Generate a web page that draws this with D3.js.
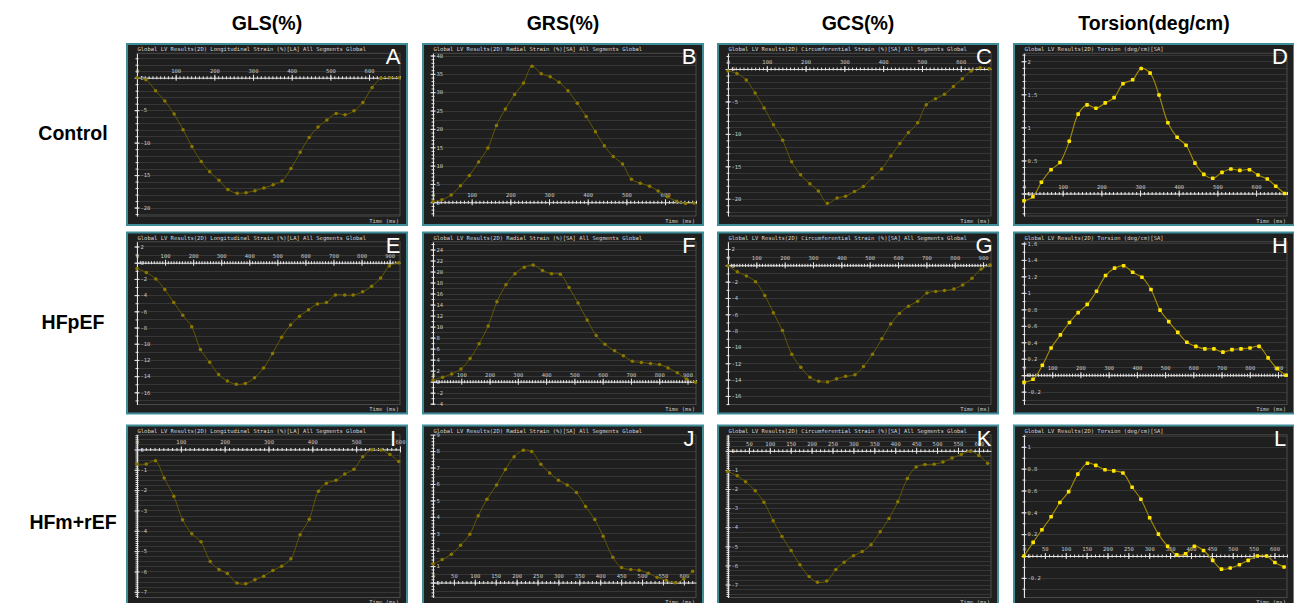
<!DOCTYPE html>
<html>
<head>
<meta charset="utf-8">
<script src="https://cdn.jsdelivr.net/npm/d3@7"></script>
<style>
  html, body { margin: 0; padding: 0; background: #ffffff; }
  svg { display: block; }
</style>
</head>
<body>
<svg id="chart" width="1294" height="603"></svg>
<script>
// ---- labels ----
const columnHeaders = ["GLS(%)", "GRS(%)", "GCS(%)", "Torsion(deg/cm)"];
const rowLabels = ["Control", "HFpEF", "HFm+rEF"];
const panelLetters = ["A", "B", "C", "D", "E", "F", "G", "H", "I", "J", "K", "L"];
const panelTitles = [
  "Global LV Results(2D) Longitudinal Strain (%)[LA] All Segments Global",
  "Global LV Results(2D) Radial Strain (%)[SA] All Segments Global",
  "Global LV Results(2D) Circumferential Strain (%)[SA] All Segments Global",
  "Global LV Results(2D) Torsion (deg/cm)[SA]"
];
const timeAxisLabel = "Time (ms)";

// ---- series: time (ms) and value per panel ----
const timeA = [0, 23, 48, 72, 96, 119, 142, 166, 188, 212, 235, 259, 282, 305, 328, 352, 375, 398, 422, 445, 468, 491, 515, 538, 561, 584, 608, 631, 655, 678];
const valueA = [0, -0.3, -2.0, -3.6, -5.6, -8.0, -10.6, -12.9, -14.5, -15.8, -17.2, -17.8, -17.7, -17.4, -17.0, -16.5, -15.9, -14.0, -11.5, -9.2, -7.6, -6.5, -5.5, -5.7, -5.1, -3.8, -1.5, -0.1, 0.0, 0.0];

const timeB = [0, 23, 47, 71, 94, 118, 142, 164, 187, 211, 234, 256, 280, 303, 326, 349, 373, 396, 420, 443, 466, 490, 513, 536, 560, 582, 606, 630, 653, 675];
const valueB = [0.2, 0.7, 2.0, 4.5, 7.3, 11.0, 14.8, 20.9, 25.4, 29.4, 32.5, 37.1, 35.0, 34.2, 32.7, 30.4, 27.0, 23.4, 19.2, 15.4, 12.5, 10.4, 6.3, 5.2, 4.4, 3.1, 1.5, 0.3, -0.3, -0.2];

const timeC = [0, 23, 47, 70, 93, 117, 141, 164, 187, 211, 233, 256, 281, 303, 326, 349, 372, 396, 420, 443, 465, 489, 511, 535, 558, 581, 604, 627, 650, 674];
const valueC = [-0.3, -0.7, -1.7, -3.7, -6.0, -8.6, -11.0, -14.3, -16.3, -17.7, -18.8, -20.7, -19.9, -19.6, -18.9, -18.1, -16.8, -15.4, -13.4, -11.5, -9.8, -8.3, -5.5, -4.6, -3.9, -2.7, -1.5, -0.3, 0.2, 0.05];

const timeD = [0, 23, 45, 70, 93, 117, 140, 163, 186, 210, 233, 256, 281, 303, 326, 349, 372, 396, 419, 442, 465, 488, 512, 535, 558, 583, 605, 629, 651, 674];
const valueD = [-0.11, -0.05, 0.17, 0.36, 0.47, 0.79, 1.20, 1.34, 1.29, 1.37, 1.45, 1.66, 1.72, 1.89, 1.82, 1.49, 1.07, 0.85, 0.73, 0.46, 0.29, 0.23, 0.32, 0.37, 0.35, 0.36, 0.28, 0.22, 0.11, 0.0];

const timeE = [0, 33, 67, 99, 131, 163, 195, 226, 259, 291, 322, 354, 386, 419, 451, 483, 515, 547, 579, 611, 643, 675, 707, 740, 770, 804, 836, 868, 899, 933];
const valueE = [-0.7, -1.2, -2.0, -3.3, -4.9, -6.5, -7.9, -10.7, -12.3, -13.8, -14.6, -15.0, -14.9, -14.2, -13.0, -11.2, -9.2, -7.7, -6.6, -5.8, -5.1, -4.9, -4.0, -4.0, -4.0, -3.6, -2.9, -1.9, -0.4, 0.0];

const timeF = [0, 34, 66, 99, 131, 163, 195, 226, 258, 290, 323, 354, 387, 419, 450, 481, 513, 545, 577, 608, 642, 673, 705, 737, 769, 801, 831, 864, 896, 928];
const valueF = [0.3, 0.8, 1.4, 2.3, 4.2, 6.9, 10.1, 14.5, 17.6, 19.6, 20.8, 21.2, 20.2, 19.6, 19.5, 17.1, 14.3, 11.2, 8.4, 6.8, 5.6, 4.7, 3.7, 3.5, 3.3, 3.1, 2.5, 1.6, 0.5, -0.1];

const timeG = [0, 33, 65, 97, 130, 160, 192, 225, 257, 289, 320, 351, 383, 415, 448, 478, 510, 543, 574, 605, 637, 669, 702, 733, 764, 797, 828, 861, 893, 925];
const valueG = [-0.05, -0.8, -1.3, -2.0, -3.7, -5.8, -8.0, -10.9, -12.5, -13.7, -14.2, -14.3, -13.9, -13.6, -13.4, -12.4, -10.9, -9.0, -7.2, -5.9, -5.0, -4.4, -3.4, -3.2, -3.1, -2.9, -2.4, -1.6, -0.45, 0.05];

const timeH = [0, 32, 65, 96, 129, 161, 192, 224, 257, 289, 321, 353, 385, 418, 450, 482, 513, 545, 577, 609, 641, 673, 705, 737, 769, 801, 833, 865, 897, 929];
const valueH = [-0.085, -0.05, 0.12, 0.33, 0.49, 0.64, 0.76, 0.86, 1.02, 1.21, 1.30, 1.33, 1.25, 1.19, 1.04, 0.79, 0.65, 0.52, 0.40, 0.35, 0.32, 0.32, 0.28, 0.31, 0.32, 0.33, 0.35, 0.21, 0.08, 0.0];

const timeI = [0, 21, 42, 62, 84, 104, 125, 146, 167, 187, 206, 228, 248, 269, 289, 310, 330, 351, 372, 393, 414, 432, 454, 474, 495, 515, 536, 557, 577, 597];
const valueI = [-0.72, -0.72, -0.56, -1.41, -2.30, -3.46, -4.15, -4.54, -5.51, -5.90, -6.10, -6.57, -6.61, -6.41, -6.23, -5.95, -5.74, -5.38, -4.20, -3.43, -2.05, -1.66, -1.52, -1.21, -0.97, -0.36, -0.02, -0.03, -0.25, -0.59];

const timeJ = [0, 22, 44, 66, 88, 108, 129, 152, 173, 194, 216, 236, 258, 279, 300, 321, 343, 365, 387, 407, 430, 451, 473, 493, 515, 536, 558, 579, 600, 621];
const valueJ = [1.13, 1.40, 1.72, 2.27, 2.94, 4.06, 5.07, 5.94, 6.88, 7.65, 8.05, 7.97, 7.20, 6.67, 6.23, 5.94, 5.48, 4.62, 3.83, 2.82, 1.54, 0.91, 0.79, 0.75, 0.57, 0.32, 0.14, -0.02, 0.22, 0.69];

const timeK = [0, 22, 42, 65, 86, 108, 129, 151, 172, 194, 214, 236, 258, 278, 300, 321, 342, 364, 385, 406, 429, 450, 471, 493, 514, 536, 558, 579, 600, 621];
const valueK = [-1.08, -1.31, -1.62, -2.09, -2.69, -3.66, -4.49, -5.22, -5.97, -6.58, -6.88, -6.82, -6.21, -5.83, -5.50, -5.27, -4.92, -4.24, -3.54, -2.67, -1.45, -0.84, -0.72, -0.70, -0.59, -0.37, -0.19, -0.02, -0.24, -0.65];

const timeL = [0, 22, 43, 65, 86, 107, 129, 152, 172, 194, 215, 237, 259, 280, 301, 322, 344, 366, 387, 408, 430, 452, 473, 494, 516, 537, 559, 581, 601, 623];
const valueL = [0.0, 0.125, 0.24, 0.36, 0.49, 0.59, 0.75, 0.85, 0.83, 0.79, 0.78, 0.76, 0.63, 0.52, 0.35, 0.20, 0.09, 0.01, 0.02, 0.09, 0.05, -0.04, -0.12, -0.11, -0.08, -0.04, 0.0, 0.0, -0.06, -0.10];

// ---- axis tick labels per panel ----
const xTicksA = [0, 100, 200, 300, 400, 500, 600];
const xTicksE = [0, 100, 200, 300, 400, 500, 600, 700, 800, 900];
const xTicksI = [0, 100, 200, 300, 400, 500, 600];
const xTicksJ = [0, 50, 100, 150, 200, 250, 300, 350, 400, 450, 500, 550, 600];

const yTicksA = [0, -5, -10, -15, -20];
const yTicksB = [0, 5, 10, 15, 20, 25, 30, 35, 40];
const yTicksC = [0, -5, -10, -15, -20];
const yTicksD = [0, 0.5, 1, 1.5, 2];
const yTicksE = [2, 0, -2, -4, -6, -8, -10, -12, -14, -16];
const yTicksF = [24, 22, 20, 18, 16, 14, 12, 10, 8, 6, 4, 2, 0, -2, -4];
const yTicksG = [2, 0, -2, -4, -6, -8, -10, -12, -14, -16];
const yTicksH = [1.6, 1.4, 1.2, 1, 0.8, 0.6, 0.4, 0.2, 0, -0.2];
const yTicksI = [0, -1, -2, -3, -4, -5, -6, -7];
const yTicksJ = [9, 8, 7, 6, 5, 4, 3, 2, 1, 0];
const yTicksK = [0, -1, -2, -3, -4, -5, -6, -7];
const yTicksL = [1, 0.8, 0.6, 0.4, 0.2, 0, -0.2];

// ---- panel setup: which series, axis extents, tick and grid spacing ----
const panels = [
  { row: 0, col: 0, t: timeA, v: valueA, xMax: 680, xTicks: xTicksA, yDomain: [-21.3, 3.76], yTicks: yTicksA, yMinor: 1, grid: 1, torsion: false },
  { row: 0, col: 1, t: timeB, v: valueB, xMax: 680, xTicks: xTicksA, yDomain: [-3.74, 40.6], yTicks: yTicksB, yMinor: 1, grid: 2.5, torsion: false },
  { row: 0, col: 2, t: timeC, v: valueC, xMax: 678, xTicks: xTicksA, yDomain: [-22.66, 2.42], yTicks: yTicksC, yMinor: 1, grid: 1, torsion: false },
  { row: 0, col: 3, t: timeD, v: valueD, xMax: 680, xTicks: xTicksA, yDomain: [-0.34, 2.12], yTicks: yTicksD, yMinor: 0.1, grid: 0.1, torsion: true },
  { row: 1, col: 0, t: timeE, v: valueE, xMax: 937, xTicks: xTicksE, yDomain: [-17.5, 2.58], yTicks: yTicksE, yMinor: 1, grid: 1, torsion: false },
  { row: 1, col: 1, t: timeF, v: valueF, xMax: 930, xTicks: xTicksE, yDomain: [-4.15, 25.4], yTicks: yTicksF, yMinor: 1, grid: 1, torsion: false },
  { row: 1, col: 2, t: timeG, v: valueG, xMax: 928, xTicks: xTicksE, yDomain: [-17.05, 2.88], yTicks: yTicksG, yMinor: 1, grid: 1, torsion: false },
  { row: 1, col: 3, t: timeH, v: valueH, xMax: 932, xTicks: xTicksE, yDomain: [-0.356, 1.62], yTicks: yTicksH, yMinor: 0.1, grid: 0.1, torsion: true },
  { row: 2, col: 0, t: timeI, v: valueI, xMax: 600, xTicks: xTicksI, yDomain: [-7.28, 0.72], yTicks: yTicksI, yMinor: 0.1, grid: 0.25, torsion: false },
  { row: 2, col: 1, t: timeJ, v: valueJ, xMax: 629, xTicks: xTicksJ, yDomain: [-0.91, 8.99], yTicks: yTicksJ, yMinor: 0.2, grid: 0.5, torsion: false },
  { row: 2, col: 2, t: timeK, v: valueK, xMax: 629, xTicks: xTicksJ, yDomain: [-7.68, 0.84], yTicks: yTicksK, yMinor: 0.1, grid: 0.25, torsion: false },
  { row: 2, col: 3, t: timeL, v: valueL, xMax: 630, xTicks: xTicksJ, yDomain: [-0.38, 1.11], yTicks: yTicksL, yMinor: 0.1, grid: 0.1, torsion: true }
];

// ---- page layout ----
const panelX = [127, 423, 718, 1014];
const panelY = [44, 232.5, 425.5];
const panelW = 280, panelH = 181;
const inset = { left: 10, right: 7, top: 9.3, bottom: 9 };

const svg = d3.select("#chart");
const mono = "'DejaVu Sans Mono', 'Liberation Mono', monospace";
const sans = "'Liberation Sans', Arial, sans-serif";

// column headers
svg.selectAll("text.colhead").data(columnHeaders).join("text")
  .attr("class", "colhead")
  .attr("x", (d, i) => panelX[i] + panelW / 2)
  .attr("y", 30)
  .attr("text-anchor", "middle")
  .attr("font-family", sans).attr("font-weight", "bold").attr("font-size", 19.5)
  .attr("fill", "#000")
  .text(d => d);

// row labels
const rowCenters = [133, 322, 522];
svg.selectAll("text.rowhead").data(rowLabels).join("text")
  .attr("class", "rowhead")
  .attr("x", 73)
  .attr("y", (d, i) => rowCenters[i] + 7)
  .attr("text-anchor", "middle")
  .attr("font-family", sans).attr("font-weight", "bold").attr("font-size", 19.5)
  .attr("fill", "#000")
  .text(d => d);

const fmt = v => String(+v.toFixed(3));
const stepValues = (lo, hi, step) =>
  d3.range(Math.ceil(lo / step - 1e-9), Math.floor(hi / step + 1e-9) + 1).map(k => +(k * step).toFixed(4));

panels.forEach((p, idx) => {
  const px = panelX[p.col], py = panelY[p.row];
  const g = svg.append("g");

  // panel frame
  g.append("rect")
    .attr("x", px).attr("y", py).attr("width", panelW).attr("height", panelH)
    .attr("fill", "#1f1f1f").attr("stroke", "#3e8d98").attr("stroke-width", 2);

  const x0 = px + inset.left, x1 = px + panelW - inset.right;
  const yTop = py + inset.top, yBot = py + panelH - inset.bottom;
  const x = d3.scaleLinear().domain([0, p.xMax]).range([x0, x1]);
  const y = d3.scaleLinear().domain(p.yDomain).range([yBot, yTop]);

  // horizontal grid
  const gridVals = stepValues(p.yDomain[0], p.yDomain[1], p.grid);
  g.append("g").selectAll("line").data(gridVals).join("line")
    .attr("x1", x0).attr("x2", x1)
    .attr("y1", d => Math.round(y(d)) + 0.5).attr("y2", d => Math.round(y(d)) + 0.5)
    .attr("stroke", "#363636").attr("stroke-width", 1);

  // plot border
  g.append("rect")
    .attr("x", x0).attr("y", yTop).attr("width", x1 - x0).attr("height", yBot - yTop)
    .attr("fill", "none").attr("stroke", "#4a4a4a").attr("stroke-width", 1);

  // title
  g.append("text")
    .attr("x", px + 10.5).attr("y", py + 7.2)
    .attr("font-family", mono).attr("font-size", 5.5).attr("fill", "#d4d4d4")
    .text(panelTitles[p.col]);

  // y axis with minor and labelled ticks
  const minorVals = stepValues(p.yDomain[0], p.yDomain[1], p.yMinor);
  const yAxisG = g.append("g").attr("transform", `translate(${x0},0)`)
    .call(d3.axisRight(y).tickValues(minorVals).tickSize(1.5).tickSizeOuter(0).tickFormat(""));
  yAxisG.select(".domain").attr("stroke", "#e6e6e6");
  yAxisG.selectAll(".tick line").attr("x1", -1.5).attr("stroke", "#e6e6e6");
  const yLab = g.append("g").attr("transform", `translate(${x0},0)`)
    .call(d3.axisRight(y).tickValues(p.yTicks).tickSize(2.5).tickPadding(1).tickFormat(fmt));
  yLab.select(".domain").remove();
  yLab.selectAll(".tick line").attr("x1", -2.5).attr("stroke", "#e6e6e6");
  yLab.selectAll(".tick text").attr("font-family", mono).attr("font-size", 5.5).attr("fill", "#c8c8c8");

  // x axis on the zero line
  const yz = y(0);
  const xMinorVals = d3.range(0, p.xMax + 0.001, 10);
  const xAxisG = g.append("g").attr("transform", `translate(0,${yz})`)
    .call(d3.axisTop(x).tickValues(xMinorVals).tickSize(1.5).tickSizeOuter(0).tickFormat(""));
  xAxisG.select(".domain").attr("stroke", "#e6e6e6");
  xAxisG.selectAll(".tick line").attr("y1", 1.5).attr("stroke", "#e6e6e6");
  const xLab = g.append("g").attr("transform", `translate(0,${yz})`)
    .call(d3.axisTop(x).tickValues(p.xTicks).tickSize(3).tickPadding(2).tickFormat(fmt));
  xLab.select(".domain").remove();
  xLab.selectAll(".tick line").attr("y1", 3).attr("stroke", "#e6e6e6");
  xLab.selectAll(".tick text").attr("font-family", mono).attr("font-size", 5.5).attr("fill", "#c8c8c8");

  // series line and markers
  const pts = p.t.map((t, i) => [t, p.v[i]]);
  const lineColor = p.torsion ? "#a48d00" : "#625700";
  const markColor = p.torsion ? "#ffe400" : "#8a7800";
  g.append("path")
    .datum(pts)
    .attr("d", d3.line().x(d => x(d[0])).y(d => y(d[1])).curve(d3.curveCatmullRom.alpha(0.5)))
    .attr("fill", "none").attr("stroke", lineColor).attr("stroke-width", p.torsion ? 1.1 : 1);
  if (p.torsion) {
    g.append("g").selectAll("rect").data(pts).join("rect")
      .attr("x", d => x(d[0]) - 1.8).attr("y", d => y(d[1]) - 1.8)
      .attr("width", 3.6).attr("height", 3.6).attr("rx", 0.7)
      .attr("fill", markColor);
  } else {
    g.append("g").selectAll("circle").data(pts).join("circle")
      .attr("cx", d => x(d[0])).attr("cy", d => y(d[1])).attr("r", 1.75)
      .attr("fill", markColor);
  }

  // time axis caption
  g.append("text")
    .attr("x", x1 - 1).attr("y", py + panelH - 2.5)
    .attr("text-anchor", "end")
    .attr("font-family", mono).attr("font-size", 5.5).attr("fill", "#c8c8c8")
    .text(timeAxisLabel);

  // panel letter
  g.append("text")
    .attr("x", px + 266).attr("y", py + 20)
    .attr("text-anchor", "middle")
    .attr("font-family", sans).attr("font-size", 22).attr("fill", "#ffffff")
    .text(panelLetters[idx]);
});
</script>
</body>
</html>
